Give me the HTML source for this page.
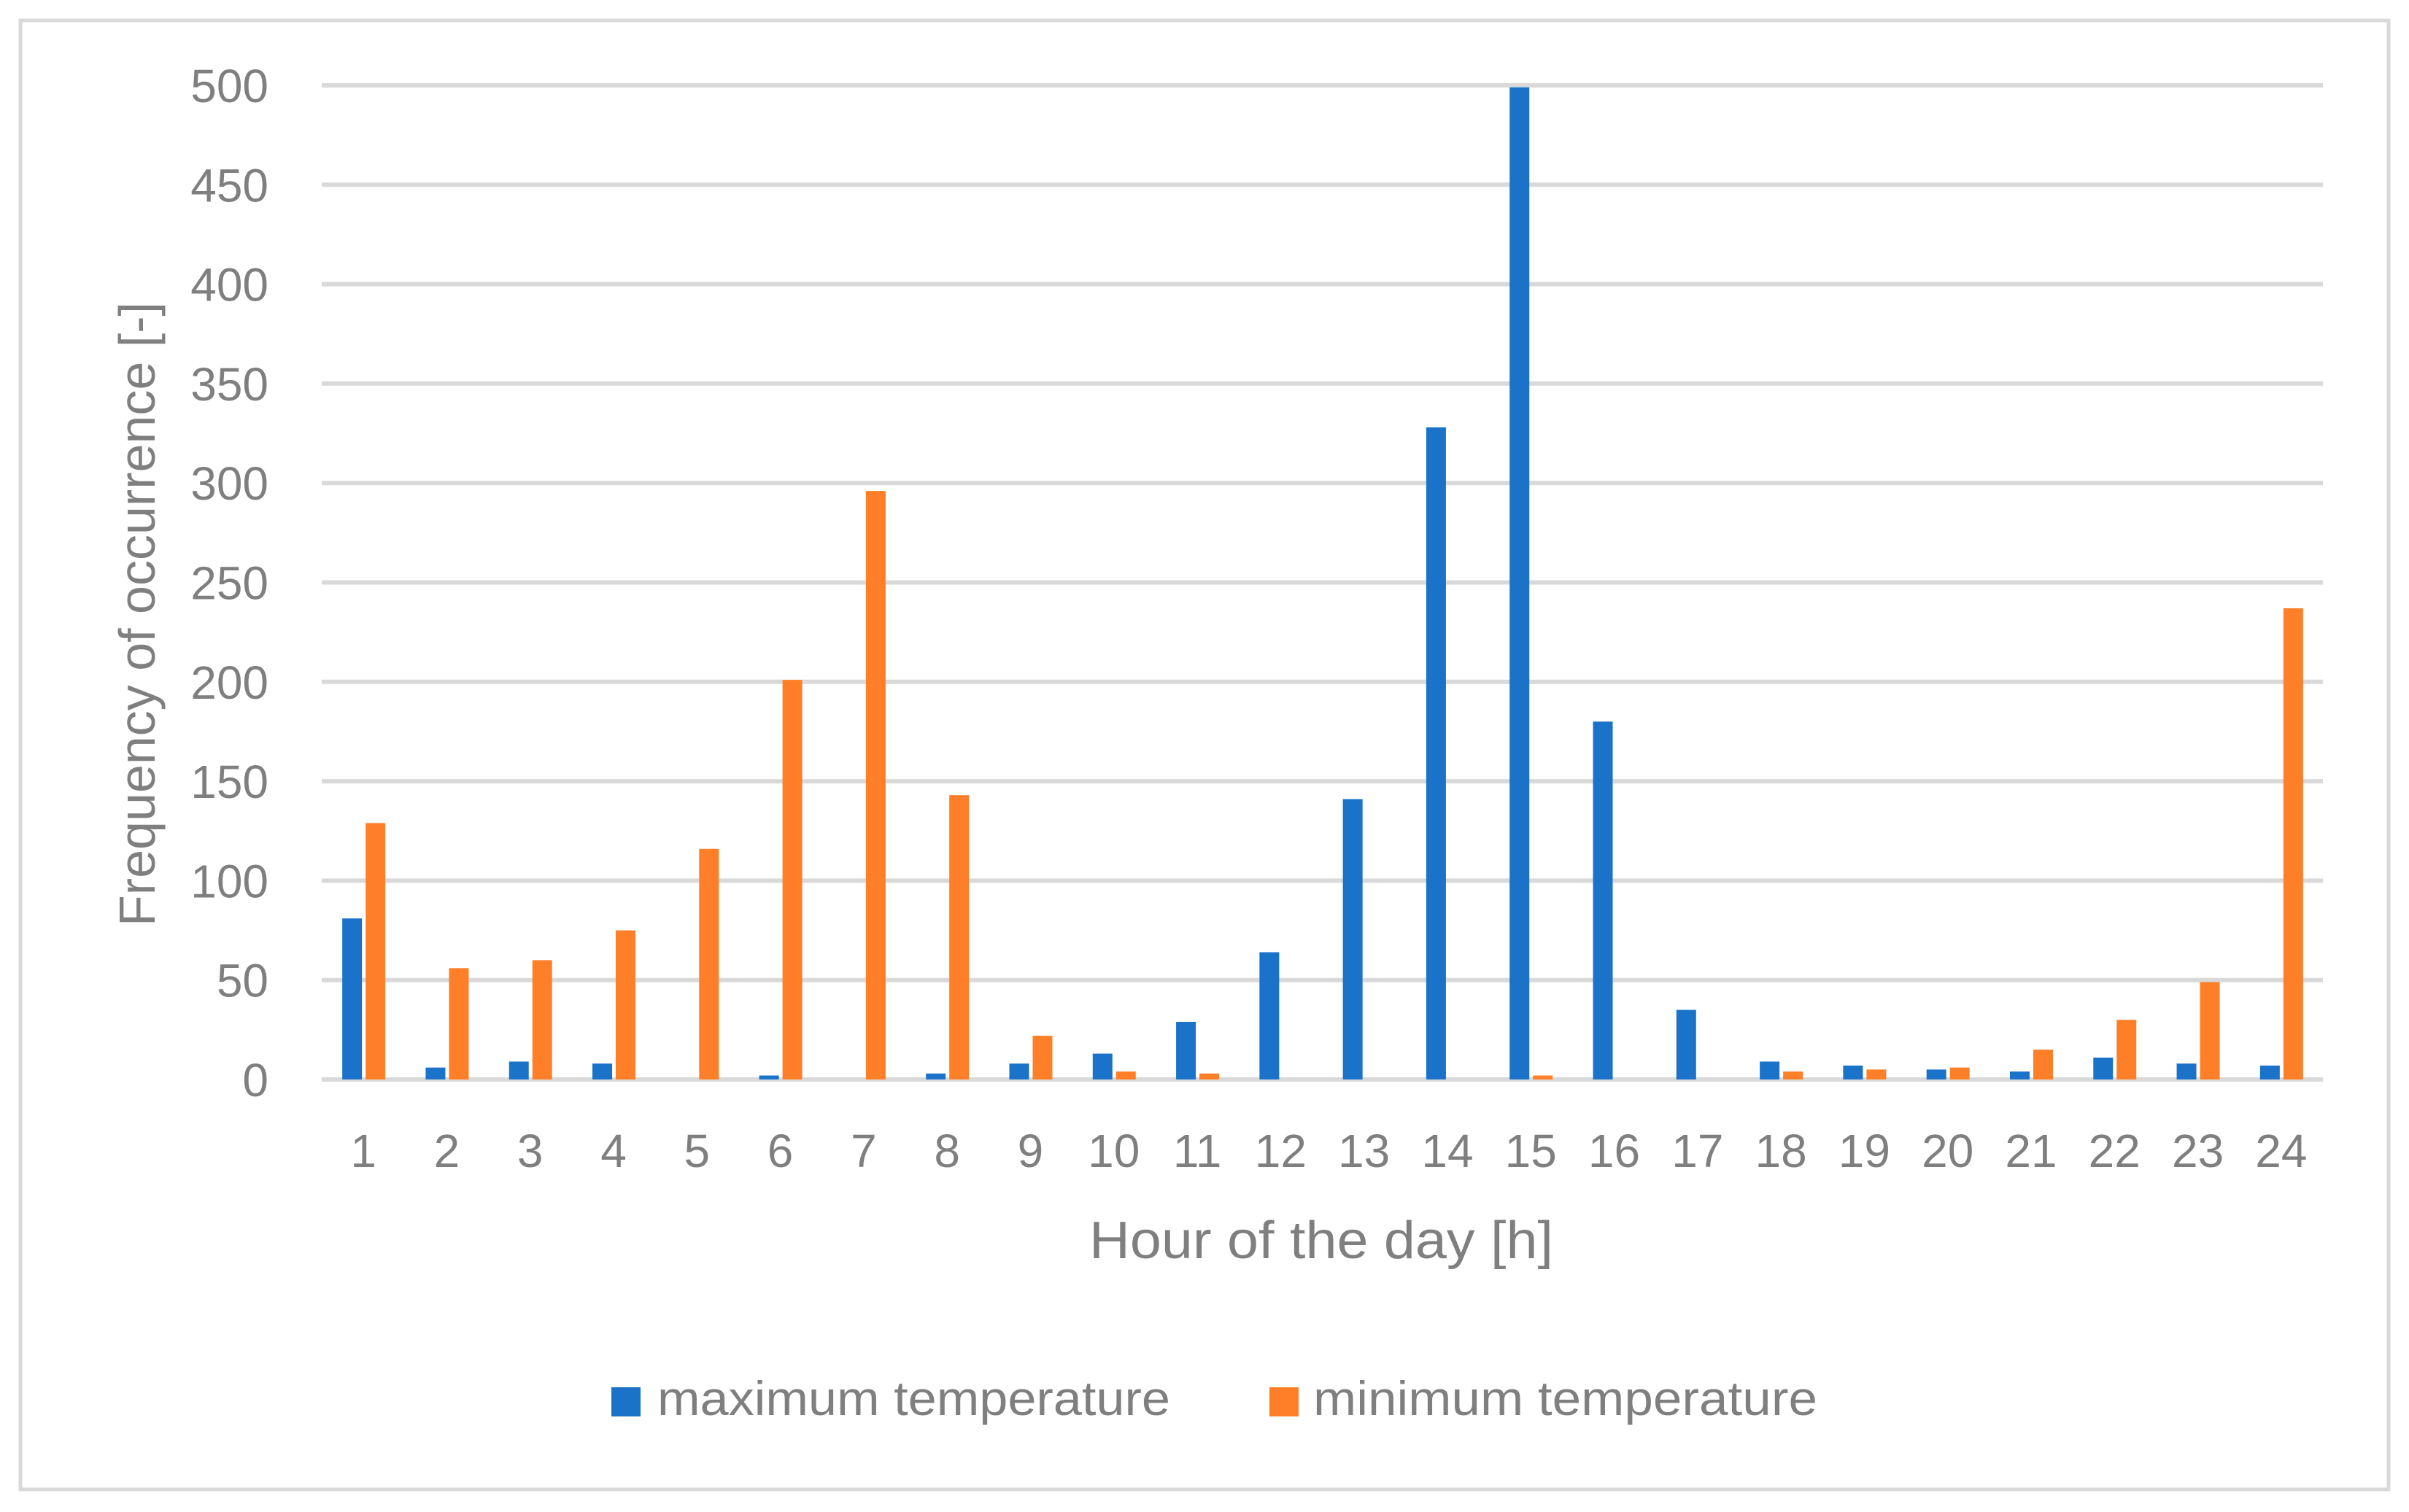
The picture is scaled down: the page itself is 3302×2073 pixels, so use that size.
<!DOCTYPE html>
<html><head><meta charset="utf-8"><style>
html,body{margin:0;padding:0;background:#fff;}
svg{display:block;font-family:"Liberation Sans",sans-serif;}
</style></head><body>
<svg id="chart" width="3302" height="2073" viewBox="0 0 3302 2073" xmlns="http://www.w3.org/2000/svg">
<rect x="28" y="28" width="3246" height="2014" fill="#fff" stroke="#d9d9d9" stroke-width="5"/>
<g id="grid"></g>
<g id="yticks"></g>
<g id="bars"></g>
<g id="xticks"></g>
<text transform="translate(212,842) rotate(-90)" text-anchor="middle" font-size="70" fill="#7f7f7f">Frequency of occurrence [-]</text>
<text x="1811" y="1725" text-anchor="middle" font-size="72" fill="#7f7f7f" textLength="636" lengthAdjust="spacingAndGlyphs">Hour of the day [h]</text>
<g>
<rect x="838" y="1902" width="40" height="40" fill="#1a73c9"/>
<text x="901" y="1940" font-size="66" fill="#7f7f7f" textLength="703" lengthAdjust="spacingAndGlyphs">maximum temperature</text>
<rect x="1740" y="1902" width="40" height="40" fill="#fe7f27"/>
<text x="1800" y="1940" font-size="66" fill="#7f7f7f" textLength="691" lengthAdjust="spacingAndGlyphs">minimum temperature</text>
</g>
</svg>
<script>
const categories = ["1","2","3","4","5","6","7","8","9","10","11","12","13","14","15","16","17","18","19","20","21","22","23","24"];
const maxTemp = [81,6,9,8,0,2,0,3,8,13,29,64,141,328,499,180,35,9,7,5,4,11,8,7];
const minTemp = [129,56,60,75,116,201,296,143,22,4,3,0,0,0,2,0,0,4,5,6,15,30,49,237];
const yTicks = [0,50,100,150,200,250,300,350,400,450,500];

const NS = "http://www.w3.org/2000/svg";
const plotL = 441, plotR = 3184, y0 = 1480, yTop = 117, yMax = 500;
const bw = (plotR - plotL) / categories.length;
function yScale(v){ return y0 - (v / yMax) * (y0 - yTop); }
function xCenter(i){ return plotL + bw * (i + 0.5); }
function mk(tag, attrs){ const e = document.createElementNS(NS, tag); for (const k in attrs) e.setAttribute(k, attrs[k]); return e; }

const grid = document.getElementById('grid');
const yt = document.getElementById('yticks');
yTicks.forEach(t => {
  const y = yScale(t);
  const l = mk('line', {x1: plotL, x2: plotR, y1: y, y2: y, stroke: '#d9d9d9', 'stroke-width': 6});
  
  
  grid.appendChild(l);
  const tx = mk('text', {x: 368, y: y + 23, 'text-anchor': 'end', 'font-size': 64, fill: '#7f7f7f'});
  
  
  tx.textContent = t;
  yt.appendChild(tx);
});

const bars = document.getElementById('bars');
const xt = document.getElementById('xticks');
categories.forEach((c, i) => {
  const cx = xCenter(i);
  const hb = y0 - yScale(maxTemp[i]);
  const b1 = mk('rect', {x: cx - 29, y: yScale(maxTemp[i]), width: 27, height: Math.max(0, hb), fill: '#1a73c9'});
  
  
  bars.appendChild(b1);
  const ho = y0 - yScale(minTemp[i]);
  const b2 = mk('rect', {x: cx + 3, y: yScale(minTemp[i]), width: 27, height: Math.max(0, ho), fill: '#fe7f27'});
  
  
  bars.appendChild(b2);
  const tx = mk('text', {x: cx, y: 1600, 'text-anchor': 'middle', 'font-size': 64, fill: '#7f7f7f'});
  
  
  tx.textContent = c;
  xt.appendChild(tx);
});
</script>
</body></html>
